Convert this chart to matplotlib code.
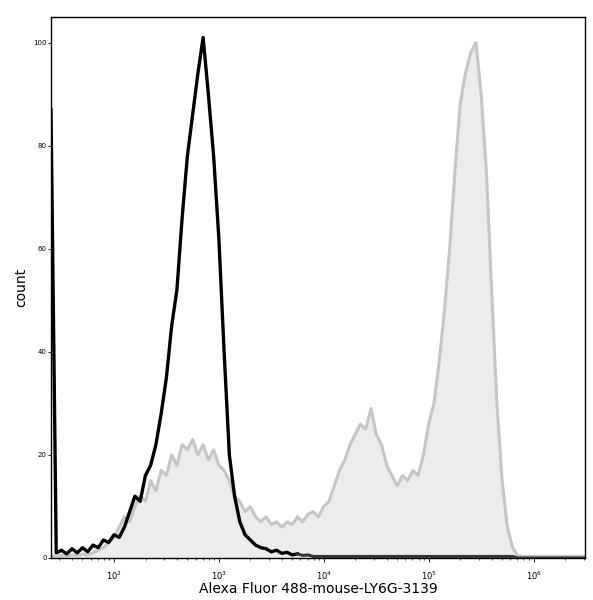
import numpy as np
import matplotlib
matplotlib.use("Agg")
import matplotlib.pyplot as plt
from matplotlib.ticker import LogLocator, NullFormatter, FixedLocator

log_x = [round(1.40 + 0.05*i, 2) for i in range(103)]

black = [87,1,1.5,0.8,1.8,1,2,1.2,2.5,2,3.5,3,4.5,4,6,9,12,11,16,18,22,28,35,45,52,66,78,86,94,101,
         90,78,62,40,20,12,7,4.5,3.5,2.5,2,1.8,1.2,1.5,0.9,1.1,0.6,0.8,0.5,0.6,0.3,
         0.3,0.3,0.3,0.3,0.3,0.3,0.3,0.3,0.3,0.3,0.3,0.3,0.3,0.3,0.3,0.3,0.3,0.3,0.3,
         0.3,0.3,0.3,0.3,0.3,0.3,0.3,0.3,0.3,0.3,0.3,0.3,0.3,0.3,0.3,0.3,0.3,0.3,0.3,
         0,0,0,0,0,0,0,0,0,0,0,0,0,0]

grey = [0.5,0.3,0.5,0.4,0.6,0.5,0.8,0.6,1,1.5,2,3,4,6,8,7,10,12,11,15,13,17,16,20,18,22,21,23,20,22,
        19,21,18,17,15,12,11,9,10,8,7,8,6.5,7,6,7,6.5,8,7,8.5,9,8,10,11,14,17,19,22,24,26,
        25,29,24,22,18,16,14,16,15,17,16,20,26,30,38,48,60,75,88,94,98,100,90,75,52,30,15,6,2,0.5,
        0.3,0.3,0.3,0.3,0.3,0.3,0.3,0.3,0.3,0.3,0.3,0.3,0.3]

x = 10**np.array(log_x)

fig = plt.figure(figsize=(5.93, 6.0), dpi=100)
ax = fig.add_axes([0.086, 0.07, 0.9005, 0.902])
ax.fill_between(x, grey, color="#ececec", zorder=1)
ax.plot(x, grey, color="#c6c6c6", lw=2.2, zorder=2)
ax.plot(x[:48], black[:48], color="#000000", lw=2.4, zorder=3)
ax.plot(x[47:], black[47:], color="#333333", lw=2.2, zorder=3)

ax.set_xscale("log")
ax.set_xlim(10**1.40, 10**6.49)
ax.set_ylim(0, 105)
ax.set_yticks([0, 20, 40, 60, 80, 100])
ax.tick_params(axis="y", labelsize=5, length=2, width=0.6, pad=1)
ax.xaxis.set_major_locator(FixedLocator([1e2, 1e3, 1e4, 1e5, 1e6]))
ax.xaxis.set_minor_locator(LogLocator(base=10, subs=np.arange(2, 10)))
ax.xaxis.set_minor_formatter(NullFormatter())
ax.tick_params(axis="x", which="major", labelsize=6, length=3, width=0.6, pad=5)
ax.tick_params(axis="x", which="minor", length=1.5, width=0.5)
for s in ax.spines.values():
    s.set_linewidth(1.0)
ax.set_xlabel("Alexa Fluor 488-mouse-LY6G-3139", fontsize=10, labelpad=0)
ax.set_ylabel("count", fontsize=10, labelpad=4)
fig.savefig("out.png", dpi=100)
